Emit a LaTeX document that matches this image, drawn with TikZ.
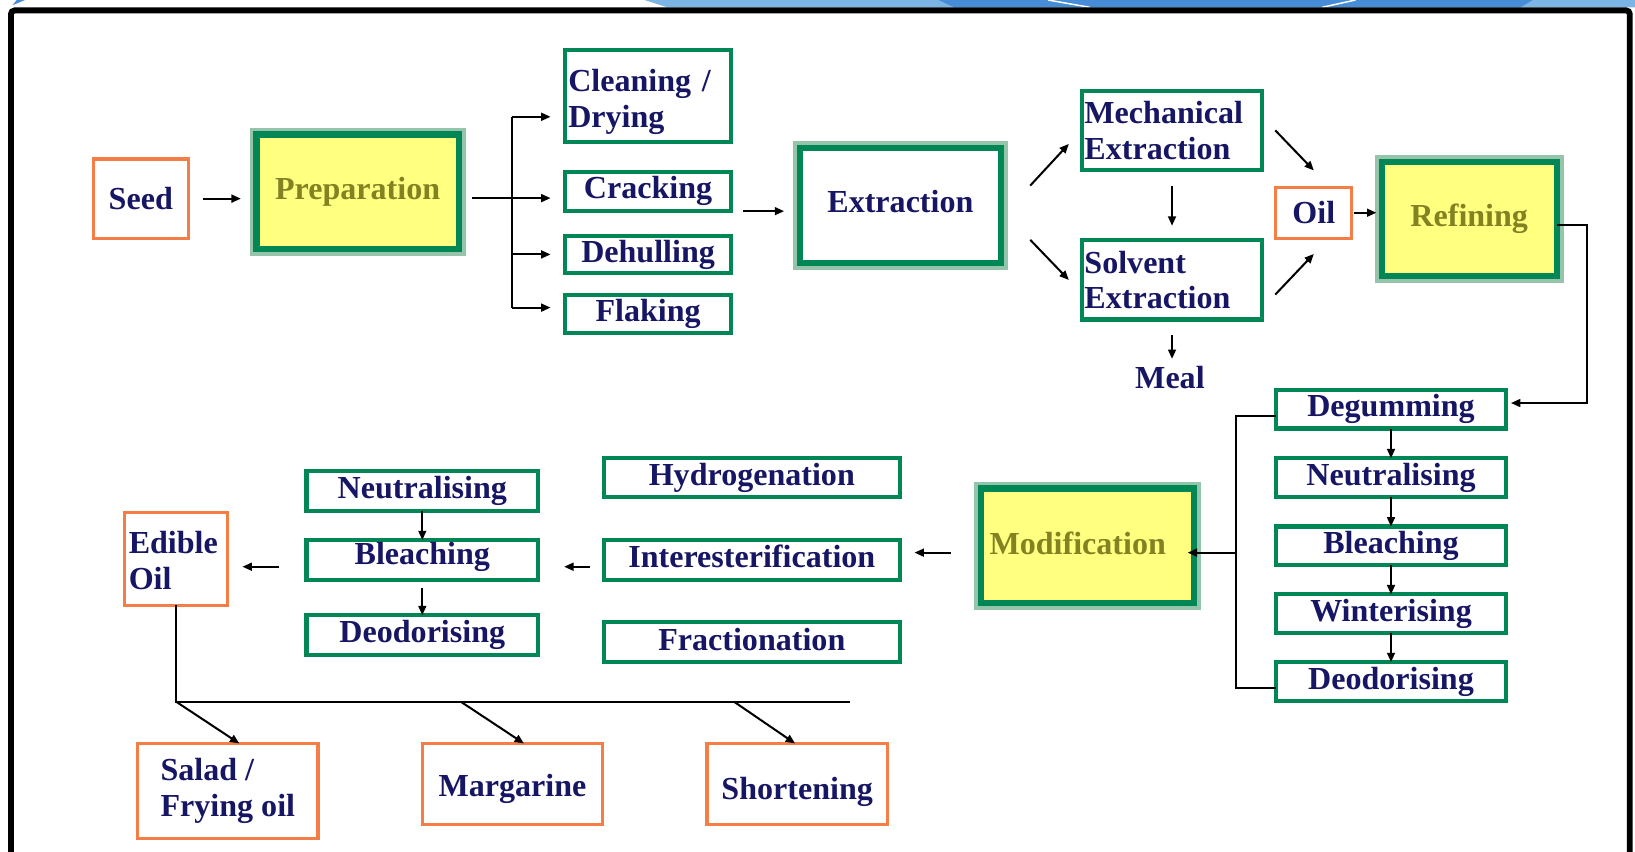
\documentclass[tikz,border=0pt]{standalone}
\usepackage{fontspec}
\setmainfont{Liberation Serif}
\usetikzlibrary{calc,arrows.meta}
\definecolor{gbord}{RGB}{0,135,85}
\definecolor{glow}{RGB}{150,196,170}
\definecolor{obord}{RGB}{245,125,70}
\definecolor{yfill}{RGB}{255,255,128}
\definecolor{navy}{RGB}{22,22,100}
\definecolor{olivetxt}{RGB}{130,130,35}
\definecolor{lblue}{RGB}{125,180,230}
\definecolor{dblue}{RGB}{70,140,215}
\newcommand{\lowertxt}[2]{\raisebox{-#1}[\height][\depth]{#2}}
\begin{document}
\begin{tikzpicture}[x=0.02cm,y=-0.02cm,
  txt/.style={outer sep=0pt, inner sep=0pt, font=\bfseries\fontsize{17.5}{19.5}\selectfont, text=navy},
  sz/.style 2 args={minimum width=#1*0.02cm, minimum height=#2*0.02cm},
  gbox/.style={txt, draw=gbord, line width=2.3pt, fill=white},
  obox/.style={txt, draw=obord, line width=1.7pt, fill=white},
  ybox/.style={txt, draw=gbord, line width=3.4pt, fill=yfill, text=olivetxt,
    preaction={draw=glow, line width=7.6pt}},
  wbox/.style={ybox, fill=white, text=navy},
  lal/.style 2 args={align=left, inner xsep=#1*0.02cm, text width=#2*0.02cm},
  ln/.style={line width=1.1pt, black},
  arr/.style={ln, -{Triangle[length=0.18cm,width=0.15cm]}}
]
\useasboundingbox (0,0) rectangle (1568,817);
% slide decoration
\fill[lblue] (618,0) -- (1568,0) -- (1568,7) -- (640,7) -- cycle;
\fill[dblue] (900,0) -- (1470,0) -- (1458,7) -- (915,7) -- cycle;
\draw[white, line width=0.8pt] (1005,0) -- (1045,7);
\draw[white, line width=0.8pt] (1300,0) -- (1268,7);
\fill[dblue] (12,5) -- (16,0) -- (24,0) -- cycle;
\draw[line width=3.2pt, rounded corners=2] (10.5,817) -- (10.5,10) -- (1563,10) -- (1563,817);

% top row
\node[obox, sz={91}{76}] (seed) at (135,190.5) {Seed};
\node[ybox, sz={194}{110}] (prep) at (343,184) {Preparation};
\node[gbox, sz={159}{88}, lal={3}{153}] (clean) at (621.5,92) {\rule{0pt}{19pt}Cleaning /\\Drying};
\node[gbox, sz={159}{37}] (crack) at (621.5,183.5) {Cracking};
\node[gbox, sz={159}{36}] (dehull) at (621.5,244) {Dehulling};
\node[gbox, sz={159}{36}] (flak) at (621.5,301) {Flaking};
\node[wbox, sz={193}{110}] (ext) at (863.5,197) {\lowertxt{-2pt}{Extraction}};
\node[gbox, sz={172}{76}, lal={2}{168}] (mech) at (1124,125) {Mechanical\\Extraction};
\node[gbox, sz={172}{76}, lal={2}{168}] (solv) at (1124,268.5) {Solvent\\Extraction};
\node[txt] (meal) at (1122,362) {Meal};
\node[obox, sz={73}{49}] (oil) at (1260,204) {Oil};
\node[ybox, sz={168}{110}] (ref) at (1409,210) {Refining};

% refining column
\node[gbox, sz={220}{37}] (deg) at (1334,392.5) {Degumming};
\node[gbox, sz={220}{37}] (neuR) at (1334,458) {Neutralising};
\node[gbox, sz={220}{37}] (bleR) at (1334,523.5) {Bleaching};
\node[gbox, sz={220}{37}] (win) at (1334,588.5) {Winterising};
\node[gbox, sz={220}{37}] (deoR) at (1334,653.5) {Deodorising};
\node[ybox, sz={204}{110}, lal={8}{188}] (mod) at (1043,523.5) {\lowertxt{-1.5pt}{Modification}};

% modification options
\node[gbox, sz={284}{38}] (hyd) at (721,458) {Hydrogenation};
\node[gbox, sz={284}{38}] (inter) at (721,537) {\lowertxt{-2pt}{Interesterification}};
\node[gbox, sz={284}{38}] (frac) at (721,615.5) {\lowertxt{-1.5pt}{Fractionation}};
\node[gbox, sz={222}{38}] (neuL) at (405,471) {Neutralising};
\node[gbox, sz={222}{38}] (bleL) at (405,537) {\lowertxt{-1.5pt}{Bleaching}};
\node[gbox, sz={222}{38}] (deoL) at (405,609) {Deodorising};
\node[obox, sz={99}{89}, lal={4}{91}] (edible) at (169,536) {\rule{0pt}{14pt}Edible\\Oil};

% products
\node[obox, sz={173}{91}, align=left] (salad) at (218.5,758.5) {Salad /\\Frying oil};
\node[obox, sz={173}{78}] (marg) at (491.5,752) {\lowertxt{2.5pt}{Margarine}};
\node[obox, sz={173}{78}] (short) at (764.5,752) {\lowertxt{4.5pt}{Shortening}};

% connectors: top row
\draw[arr] ($(seed.east)+(14,0)$) -- ($(seed.east -| prep.west)+(-15,0)$);
\coordinate (ps) at ($(prep.east)+(13,6)$);
\coordinate (br) at ($(prep.east)+(51,6)$);
\draw[arr] (ps) -- ($(ps -| crack.west)+(-14,0)$);
\draw[ln] ($(br |- clean.west)+(0,20)$) -- ($(br |- flak.west)+(0,-6)$);
\draw[arr] ($(br |- clean.west)+(0,20)$) -- ($(clean.west)+(-14,20)$);
\draw[arr] (br |- dehull.west) -- ($(dehull.west)+(-14,0)$);
\draw[arr] ($(br |- flak.west)+(0,-6)$) -- ($(flak.west)+(-14,-6)$);
\coordinate (cs) at ($(crack.east)+(12,19)$);
\draw[arr] (cs) -- ($(cs -| ext.west)+(-15,0)$);
\draw[arr] ($(ext.east)+(28,-19)$) -- ($(mech.west)+(-13,13)$);
\draw[arr] ($(ext.east)+(28,33)$) -- ($(solv.west)+(-13,0)$);
\draw[arr] ($(mech.south)+(0,15)$) -- ($(solv.north)+(0,-14)$);
\draw[arr] ($(solv.south)+(0,15)$) -- ($(solv.south |- meal.north)+(0,-7)$);
\draw[arr] ($(mech.east)+(13,0)$) -- ($(oil.north)+(0,-16)$);
\draw[arr] ($(solv.east)+(13,14)$) -- ($(oil.south)+(0,15)$);
\draw[arr] ($(oil.east)+(2,0)$) -- ($(oil.east -| ref.west)+(-5,0)$);
\draw[arr] ($(ref.east)+(0,6)$) -- ++(29,0) |- ($(deg.east)+(5,-6)$);

% refining chain
\draw[arr] (deg.south) -- (neuR.north);
\draw[arr] (neuR.south) -- (bleR.north);
\draw[arr] (bleR.south) -- (win.north);
\draw[arr] (win.south) -- (deoR.north);
\draw[ln] ($(deg.west)+(0,6.5)$) -- ++(-39,0) |- ($(deoR.west)+(0,6.5)$);
\draw[arr] ($(mod.east)+(40,6.5)$) -- ($(mod.east)+(-6,6.5)$);

% modification to edible oil
\coordinate (ms) at ($(mod.west)+(-29,6.5)$);
\draw[arr] (ms) -- ($(ms -| inter.east)+(14,0)$);
\coordinate (is) at ($(inter.west)+(-13,6.5)$);
\draw[arr] (is) -- ($(is -| bleL.east)+(25,0)$);
\coordinate (bs) at ($(bleL.west)+(-26,6.5)$);
\draw[arr] (bs) -- ($(bs -| edible.east)+(14,0)$);
\draw[arr] (neuL.south) -- (bleL.north);
\draw[arr] ($(bleL.south)+(0,8)$) -- (deoL.north);

% products
\coordinate (hb) at ($(edible.south)+(0,92.5)$);
\draw[ln] (edible.south) -- (hb) -- ++(646,0);
\draw[arr] (hb) -- ($(salad.north)+(11,0)$);
\draw[arr] ($(hb)+(273,0)$) -- ($(marg.north)+(11,0)$);
\draw[arr] ($(hb)+(535,0)$) -- ($(short.north)+(-2,0)$);
\end{tikzpicture}
\end{document}
